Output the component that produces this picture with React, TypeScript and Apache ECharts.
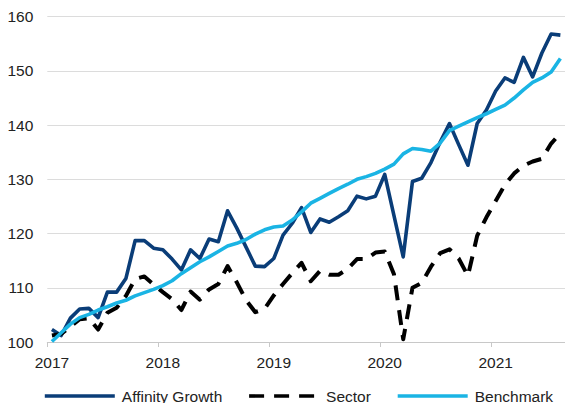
import React, { useEffect, useRef } from 'react';
import * as echarts from 'echarts';

// Year tick labels (one label every 12 monthly points)
const years = ['2017', '2018', '2019', '2020', '2021'];
const monthNames = ['01', '02', '03', '04', '05', '06', '07', '08', '09', '10', '11', '12'];
const pointCount = 56; // Jan 2017 .. Aug 2021
const categories: string[] = [];
for (let i = 0; i < pointCount; i++) {
  categories.push(`${2017 + Math.floor(i / 12)}-${monthNames[i % 12]}`);
}

const seriesNames = ['Affinity Growth', 'Sector', 'Benchmark'];

const affinityGrowth = [
  102.3, 101.2, 104.4, 106.1, 106.2, 104.5, 109.2, 109.2, 111.7, 118.7,
  118.7, 117.3, 117.0, 115.3, 113.3, 117.0, 115.4, 119.0, 118.5, 124.2,
  121.0, 117.5, 114.0, 113.9, 115.4, 119.7, 121.9, 124.8, 120.2, 122.7,
  122.1, 123.1, 124.2, 126.9, 126.4, 126.9, 130.9, 123.3, 115.7, 129.6,
  130.2, 133.1, 136.9, 140.3, 136.4, 132.6, 140.3, 142.8, 146.3, 148.7,
  147.9, 152.5, 148.9, 153.3, 156.8, 156.6,
];

const sector = [
  101.2, 101.5, 102.8, 104.2, 104.4, 102.3, 105.4, 106.3, 108.5, 111.6,
  112.1, 110.6, 109.2, 107.9, 105.9, 109.3, 107.8, 109.7, 110.7, 114.0,
  111.0, 107.7, 105.5, 106.1, 108.6, 110.7, 112.7, 114.6, 111.2, 113.1,
  112.4, 112.4, 113.5, 115.3, 115.3, 116.5, 116.7, 112.5, 100.5, 110.0,
  110.9, 113.9, 116.4, 117.1, 115.4, 112.2, 119.6, 123.0, 126.0, 129.0,
  131.1, 132.5, 133.3, 133.8, 136.6, 138.5,
];

const benchmark = [
  100.1, 101.7, 103.3, 104.5, 105.1, 105.9, 106.5, 107.2, 107.7, 108.5,
  109.1, 109.7, 110.4, 111.3, 112.6, 113.7, 114.8, 115.7, 116.7, 117.7,
  118.2, 118.9, 119.9, 120.7, 121.2, 121.4, 122.5, 124.0, 125.6, 126.5,
  127.4, 128.3, 129.1, 130.0, 130.5, 131.1, 131.9, 132.8, 134.7, 135.7,
  135.5, 135.2, 136.7, 139.0, 139.8, 140.6, 141.4, 142.1, 142.9, 143.7,
  145.0, 146.5, 147.9, 148.7, 149.8, 152.3,
];

const yMin = 100;
const yMax = 160;
const yStep = 10;

const FONT = "'Liberation Sans', Arial, sans-serif";
const TEXT = '#222222';
const NAVY = '#0A3D78';
const CYAN = '#1AB4E4';

export default function App() {
  const ref = useRef<HTMLDivElement>(null);

  useEffect(() => {
    if (!ref.current) return;
    const chart = echarts.init(ref.current, null, { renderer: 'svg' });
    chart.setOption({
      animation: false,
      backgroundColor: '#ffffff',
      grid: { left: 47.3, right: -4.8, top: 16.7, bottom: 61, containLabel: false },
      legend: {
        data: seriesNames,
        left: 38,
        top: 383,
        padding: 5,
        itemWidth: 70,
        itemHeight: 14,
        itemGap: 25,
        itemStyle: { opacity: 0 },
        lineStyle: { width: 3.6 },
        textStyle: { fontFamily: FONT, fontSize: 15.5, color: TEXT, padding: [0, 0, 0, 2] },
      },
      xAxis: {
        type: 'category',
        data: categories,
        boundaryGap: true,
        axisLine: { show: true, lineStyle: { color: '#C8C8C8', width: 1 } },
        axisTick: { show: true, interval: 11, length: 5, lineStyle: { color: '#C8C8C8' } },
        axisLabel: {
          interval: 11,
          margin: 12,
          fontFamily: FONT,
          fontSize: 15.5,
          color: TEXT,
          formatter: (_v: string, idx: number) => years[Math.floor(idx / 12)] ?? '',
        },
        splitLine: { show: false },
      },
      yAxis: {
        type: 'value',
        min: yMin,
        max: yMax,
        interval: yStep,
        axisLine: { show: false },
        axisTick: { show: false },
        axisLabel: { margin: 14, fontFamily: FONT, fontSize: 15.5, color: TEXT },
        splitLine: { lineStyle: { color: '#DCDCDC', width: 1 } },
      },
      series: [
        {
          name: seriesNames[0],
          type: 'line',
          data: affinityGrowth,
          symbol: 'none',
          lineStyle: { color: NAVY, width: 3.6, join: 'round' },
          itemStyle: { color: NAVY },
        },
        {
          name: seriesNames[1],
          type: 'line',
          data: sector,
          symbol: 'none',
          lineStyle: { color: '#000000', width: 4, type: [15, 10], cap: 'butt', join: 'round' },
          itemStyle: { color: '#000000' },
        },
        {
          name: seriesNames[2],
          type: 'line',
          data: benchmark,
          symbol: 'none',
          lineStyle: { color: CYAN, width: 3.6, join: 'round' },
          itemStyle: { color: CYAN },
        },
      ],
    });
    return () => chart.dispose();
  }, []);

  return (
    <div
      ref={ref}
      style={{ position: 'fixed', left: 0, top: 0, width: 565, height: 403, background: '#fff' }}
    />
  );
}
